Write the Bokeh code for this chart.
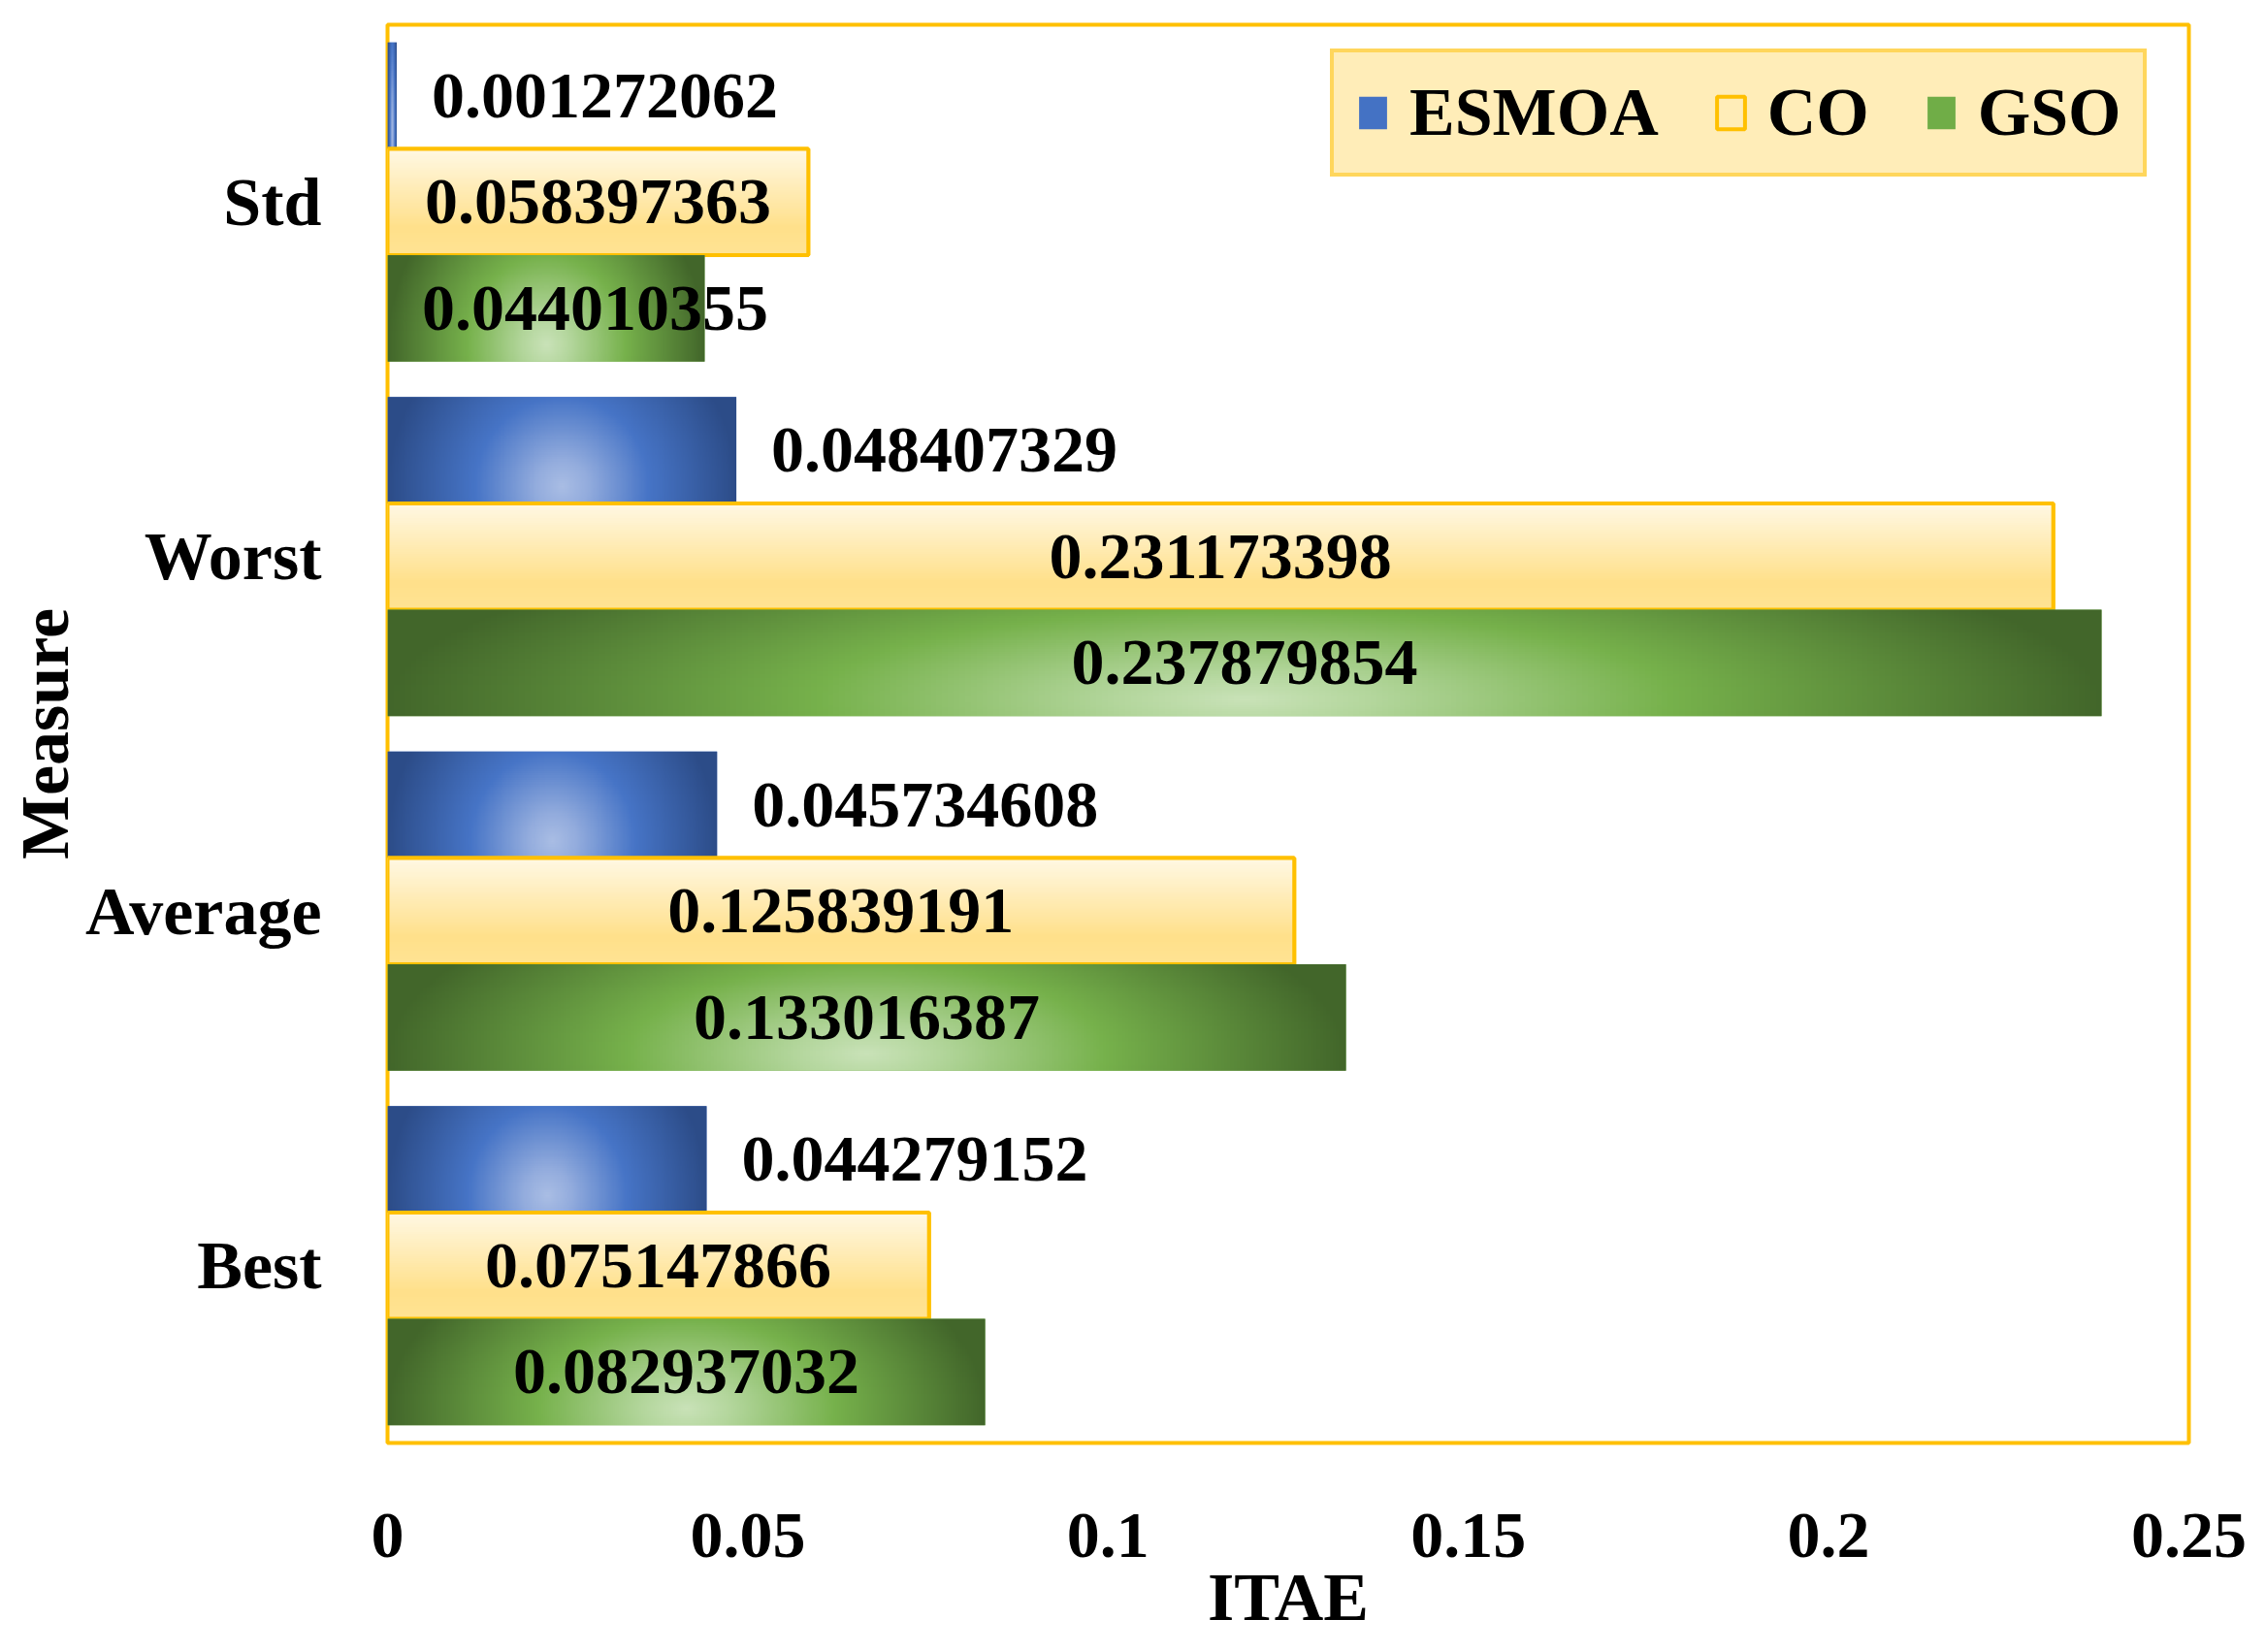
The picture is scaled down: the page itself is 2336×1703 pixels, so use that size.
import numpy as np
from bokeh.plotting import figure
from bokeh.models import Range1d, FixedTicker, NumeralTickFormatter, Legend, LegendItem
from bokeh.core.properties import value
from bokeh.embed import file_html
from bokeh.resources import INLINE

# ---- data ----
measures = ["Best", "Average", "Worst", "Std"]          # bottom -> top
series_names = ["ESMOA", "CO", "GSO"]
esmoa = [0.044279152, 0.045734608, 0.048407329, 0.001272062]
co = [0.075147866, 0.125839191, 0.231173398, 0.058397363]
gso = [0.082937032, 0.133016387, 0.237879854, 0.044010355]
x_ticks = [0, 0.05, 0.1, 0.15, 0.2, 0.25]

FONT = "Liberation Serif"
FS_VAL = "68px"
FS_LBL = "70px"
GOLD = "#FFC000"

# ---- gradient helpers ----
def hex2rgb(h):
    return np.array([int(h[i:i + 2], 16) for i in (1, 3, 5)], float)

def interp_stops(t, stops):
    t = np.clip(t, 0, 1)
    pos = np.array([s[0] for s in stops])
    cols = np.array([hex2rgb(s[1]) for s in stops])
    out = np.empty(t.shape + (3,))
    for k in range(3):
        out[..., k] = np.interp(t, pos, cols[:, k])
    return out

def to_rgba(rgb):
    ny, nx, _ = rgb.shape
    img = np.empty((ny, nx), dtype=np.uint32)
    v = img.view(dtype=np.uint8).reshape((ny, nx, 4))
    v[..., :3] = np.round(rgb).astype(np.uint8)
    v[..., 3] = 255
    return img

NX, NY = 300, 48
U = np.linspace(0, 1, NX)[None, :]
W = np.linspace(0, 1, NY)[:, None]

def radial(stops, cy=0.15, sy=1.7):
    d = np.sqrt(((U - 0.5) / 0.5) ** 2 + ((W - cy) / sy) ** 2)
    return to_rgba(interp_stops(d, stops))

def vertical(stops):
    t = np.broadcast_to(1 - W, (NY, NX))
    return to_rgba(interp_stops(t, stops))

blue_img = radial([(0, "#A9BDE4"), (0.15, "#93ACDD"), (0.5, "#4674C6"), (1, "#2C4C88")])
green_img = radial([(0, "#C9E2B8"), (0.15, "#B3D69C"), (0.5, "#76B14B"), (1, "#42662A")])
cream_img = vertical([(0, "#FFF8E4"), (0.75, "#FFE08A"), (1, "#FFE393")])

# ---- figure ----
p = figure(width=2320, height=1687, output_backend="svg", toolbar_location=None,
           x_range=Range1d(0, 0.25), y_range=Range1d(-0.5, 3.5),
           min_border_left=399, min_border_right=64, min_border_top=25,
           min_border_bottom=200)
p.grid.visible = False
p.outline_line_color = GOLD
p.outline_line_width = 4
p.background_fill_color = "white"

ypos = np.arange(len(measures))
BAR_H = 0.3
offsets = {"ESMOA": 0.3, "CO": 0.0, "GSO": -0.3}

# ESMOA
ye = ypos + offsets["ESMOA"]
r_es = p.hbar(y=ye, left=0, right=esmoa, height=BAR_H, fill_color="#4472C4", line_color=None)
p.image_rgba(image=[blue_img] * len(esmoa), x=[0] * len(esmoa), y=list(ye - BAR_H / 2),
             dw=esmoa, dh=[BAR_H] * len(esmoa))

# CO
yc = ypos + offsets["CO"]
r_co = p.hbar(y=yc, left=0, right=co, height=BAR_H, fill_color="#FFEDB8",
              line_color=GOLD, line_width=4)
p.image_rgba(image=[cream_img] * len(co), x=[0] * len(co), y=list(yc - BAR_H / 2),
             dw=co, dh=[BAR_H] * len(co))
p.hbar(y=yc, left=0, right=co, height=BAR_H, fill_color=None, line_color=GOLD, line_width=4)

# GSO
yg = ypos + offsets["GSO"]
r_gs = p.hbar(y=yg, left=0, right=gso, height=BAR_H, fill_color="#70AD47", line_color=None)
p.image_rgba(image=[green_img] * len(gso), x=[0] * len(gso), y=list(yg - BAR_H / 2),
             dw=gso, dh=[BAR_H] * len(gso))

# ---- value labels ----
def fmt(vs):
    return [f"{v:.9f}" for v in vs]

txt_kw = dict(text_font=value(FONT), text_font_style="bold", text_font_size=FS_VAL,
              text_color="black", text_baseline="middle")
p.text(x=esmoa, y=ye, text=fmt(esmoa), text_align="left", x_offset=36, **txt_kw)
p.text(x=[v / 2 for v in co], y=yc, text=fmt(co), text_align="center", **txt_kw)
label_half_w, inset = 0.0238, 0.0050
p.text(x=[max(v / 2, label_half_w + inset) for v in gso], y=yg, text=fmt(gso),
       text_align="center", **txt_kw)

# ---- axes ----
for ax in (p.xaxis[0], p.yaxis[0]):
    ax.axis_line_color = None
    ax.major_tick_line_color = None
    ax.minor_tick_line_color = None
    ax.major_label_text_font = FONT
    ax.major_label_text_font_style = "bold"
    ax.major_label_text_color = "black"
    ax.axis_label_text_font = FONT
    ax.axis_label_text_font_style = "bold"
    ax.axis_label_text_font_size = FS_LBL
    ax.axis_label_text_color = "black"

p.xaxis.ticker = FixedTicker(ticks=x_ticks)
p.xaxis.formatter = NumeralTickFormatter(format="0.[00]")
p.xaxis.major_label_text_font_size = FS_VAL
p.xaxis.axis_label = "ITAE"
p.xaxis.major_label_standoff = 67
p.xaxis.axis_label_standoff = 0

p.yaxis.ticker = FixedTicker(ticks=list(ypos))
p.yaxis.major_label_overrides = {int(i): m for i, m in zip(ypos, measures)}
p.yaxis.major_label_text_font_size = FS_LBL
p.yaxis.axis_label = "Measure"
p.yaxis.major_label_standoff = 62
p.yaxis.axis_label_standoff = 0

# ---- legend ----
legend = Legend(items=[LegendItem(label=series_names[0], renderers=[r_es]),
                       LegendItem(label=series_names[1], renderers=[r_co]),
                       LegendItem(label=series_names[2], renderers=[r_gs])],
                orientation="horizontal", location=(972, 1305))
legend.label_text_font = FONT
legend.label_text_font_style = "bold"
legend.label_text_font_size = FS_LBL
legend.label_text_color = "black"
legend.glyph_width = 36
legend.glyph_height = 42
legend.label_standoff = 20
legend.spacing = 56
legend.padding = 22
legend.margin = 0
legend.border_line_color = GOLD
legend.border_line_width = 4
legend.background_fill_color = "#FFEDB8"
legend.background_fill_alpha = 1
p.add_layout(legend)

open("out.html", "w").write(file_html(p, INLINE))
